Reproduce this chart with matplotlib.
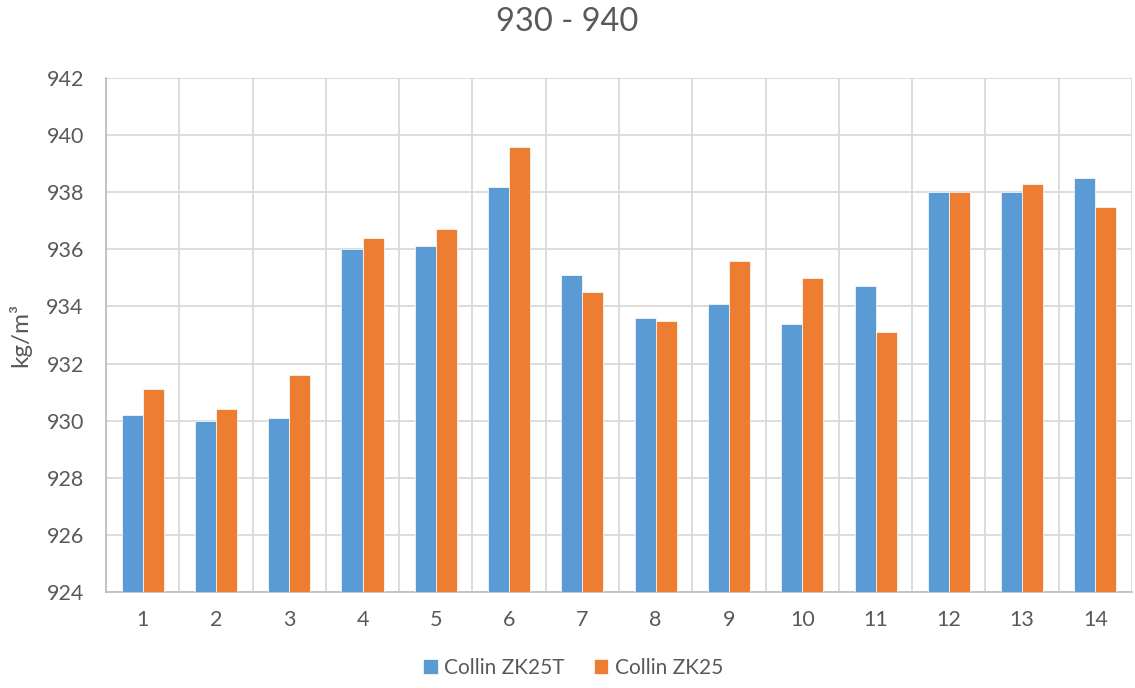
import numpy as np
import matplotlib.pyplot as plt

plt.rcParams['font.family'] = ['Lato', 'DejaVu Sans']

samples = [str(i) for i in range(1, 15)]
zk25t = [930.2, 930.0, 930.1, 936.0, 936.1, 938.2, 935.1, 933.6, 934.1, 933.4, 934.7, 938.0, 938.0, 938.5]
zk25 = [931.1, 930.4, 931.6, 936.4, 936.7, 939.6, 934.5, 933.5, 935.6, 935.0, 933.1, 938.0, 938.3, 937.5]
series_names = ['Collin ZK25T', 'Collin ZK25']
y_ticks = list(range(924, 943, 2))

text_col = '#595959'
grid_col = '#D9D9D9'

fig = plt.figure(figsize=(11.35, 6.88), dpi=100)
ax = fig.add_axes([0.0934, 0.1395, 0.9040, 0.7471])

x = np.arange(len(samples))
w = 0.287
base = y_ticks[0]
ax.bar(x - w / 2, np.array(zk25t) - base, w, bottom=base, color='#5B9BD5',
       edgecolor='white', linewidth=0.5, label=series_names[0], zorder=3)
ax.bar(x + w / 2, np.array(zk25) - base, w, bottom=base, color='#ED7D31',
       edgecolor='white', linewidth=0.5, label=series_names[1], zorder=3)

ax.set_xlim(-0.5, len(samples) - 0.5)
ax.set_ylim(y_ticks[0], y_ticks[-1])
ax.set_yticks(y_ticks)
ax.set_xticks(x)
ax.set_xticklabels(samples)

# vertical lines between categories
ax.set_xticks(np.arange(-0.5, len(samples), 1), minor=True)
ax.grid(True, which='minor', axis='x', color=grid_col, linewidth=1.3, zorder=0)
ax.grid(True, which='major', axis='y', color=grid_col, linewidth=1.3, zorder=0)
ax.tick_params(which='both', length=0)
ax.tick_params(axis='both', labelsize=15.5, colors=text_col)
ax.tick_params(axis='x', pad=13)
ax.tick_params(axis='y', pad=16)

for side in ['top', 'right']:
    ax.spines[side].set_visible(False)
for side in ['left', 'bottom']:
    ax.spines[side].set_color('#BFBFBF')
    ax.spines[side].set_linewidth(1.3)

fig.text(20 / 1135, 0.513, 'kg/m³', rotation=90, ha='center', va='center',
         fontsize=17.5, color=text_col)
fig.suptitle('930 - 940', fontsize=23.5, color=text_col, y=0.99)

fig.legend(loc='lower center', bbox_to_anchor=(0.505, -0.012), ncol=2, frameon=False,
           fontsize=15, labelcolor=text_col, handlelength=0.7, handleheight=0.7,
           handletextpad=0.3, columnspacing=1.4)

fig.savefig('out.png', dpi=100, facecolor='white')
